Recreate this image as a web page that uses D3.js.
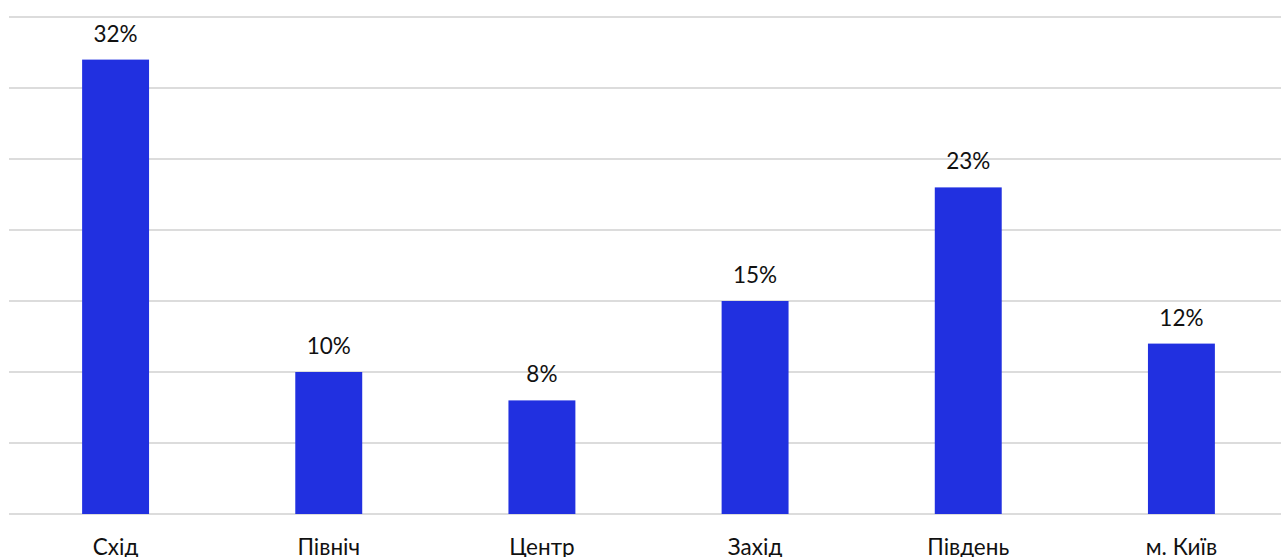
<!DOCTYPE html>
<html><head><meta charset="utf-8">
<script src="https://cdn.jsdelivr.net/npm/d3@7"></script>
<style>html,body{margin:0;padding:0;background:#fff;overflow:hidden}svg{display:block}</style>
</head><body>
<svg id="c" width="1281" height="557"></svg>
<script>
const categories = ["Схід", "Північ", "Центр", "Захід", "Південь", "м. Київ"];
const values = [32, 10, 8, 15, 23, 12];
const tickValues = [0, 5, 10, 15, 20, 25, 30, 35];

const svg = d3.select("#c");
const x = d3.scaleBand().domain(categories).range([9, 1288]).paddingInner(0.686).paddingOuter(0.343);
const y = d3.scaleLinear().domain([0, 35]).range([514, 17]);

svg.append("g").selectAll("line").data(tickValues).join("line")
  .attr("x1", 9).attr("x2", 1281)
  .attr("y1", d => y(d)).attr("y2", d => y(d))
  .attr("stroke", "#dcdcdc").attr("stroke-width", 2);

svg.append("g").selectAll("rect").data(values).join("rect")
  .attr("x", (d, i) => x(categories[i]))
  .attr("width", x.bandwidth())
  .attr("y", d => y(d))
  .attr("height", d => y(0) - y(d))
  .attr("fill", "#2130e0");

svg.append("g").selectAll("text").data(values).join("text")
  .attr("x", (d, i) => x(categories[i]) + x.bandwidth() / 2)
  .attr("y", d => y(d) - 18)
  .attr("text-anchor", "middle")
  .attr("font-family", "Lato, 'Noto Sans', sans-serif")
  .attr("font-size", 22.5).attr("fill", "#111")
  .text(d => d + "%");

const xAxis = d3.axisBottom(x).tickSize(0).tickPadding(0);
const ax = svg.append("g").attr("transform", "translate(0,514)").call(xAxis);
ax.select(".domain").remove();
ax.selectAll("text").attr("dy", null).attr("y", 41)
  .attr("font-family", "Lato, 'Noto Sans', sans-serif")
  .attr("font-size", 22.5).attr("fill", "#111");
</script>
</body></html>
